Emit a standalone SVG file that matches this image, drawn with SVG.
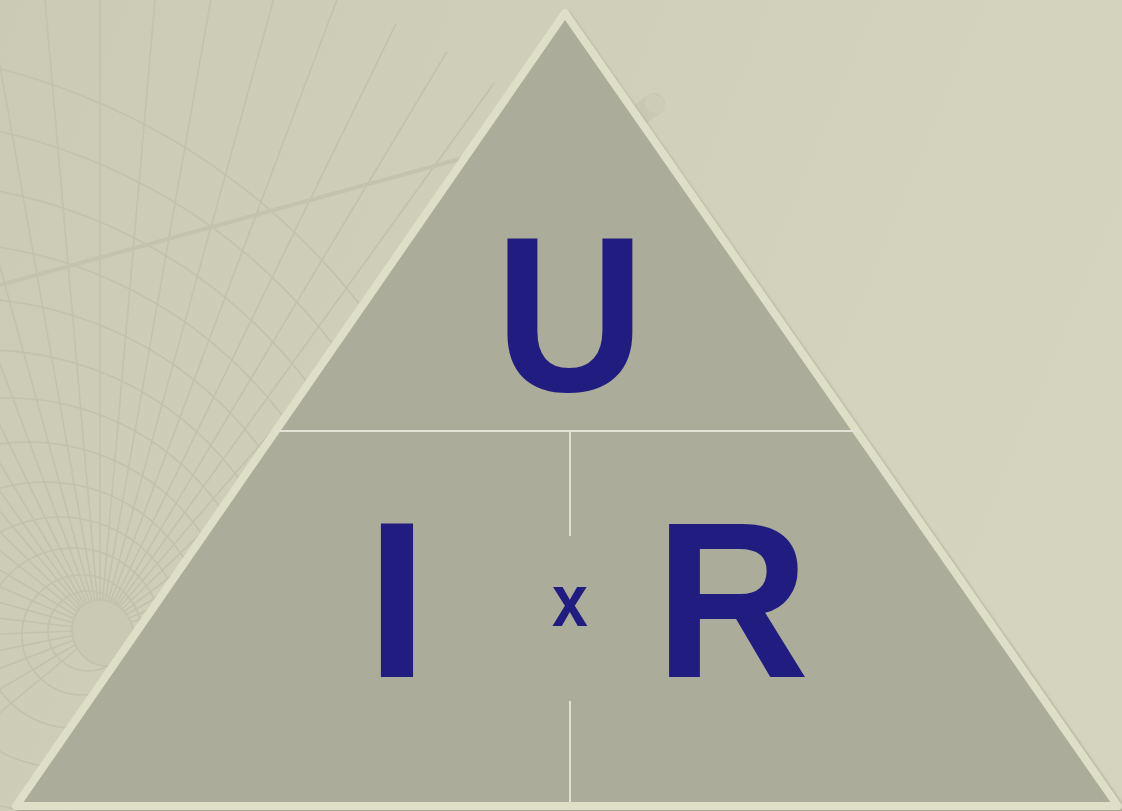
<svg xmlns="http://www.w3.org/2000/svg" width="1122" height="811" viewBox="0 0 1122 811">
<defs>
<linearGradient id="bg" x1="0" y1="0" x2="1" y2="0.3">
<stop offset="0" stop-color="#cbcab4"/>
<stop offset="1" stop-color="#d5d4be"/>
</linearGradient>
<clipPath id="gclip"><circle cx="100" cy="625" r="670"/></clipPath>
<filter id="sh" x="-5%" y="-5%" width="110%" height="110%"><feGaussianBlur stdDeviation="1.5"/></filter>
<style>
.g{fill:none;stroke:#c3c2ac;stroke-width:1.6}
.t{font-family:"Liberation Sans",Arial,sans-serif;font-weight:bold;fill:#201c80}
.sep{stroke:#e2e1d4;stroke-width:2;fill:none}
</style>
</defs>
<rect width="1122" height="811" fill="url(#bg)"/>
<g id="grid" clip-path="url(#gclip)">
<g class="g">
<circle cx="88" cy="631" r="40"/>
<circle cx="82" cy="635" r="60"/>
<circle cx="73" cy="638" r="90"/>
<circle cx="60" cy="642" r="125"/>
<circle cx="45" cy="647" r="165"/>
<circle cx="28" cy="652" r="210"/>
<circle cx="8" cy="658" r="260"/>
<circle cx="-15" cy="665" r="315"/>
<circle cx="-40" cy="673" r="375"/>
<circle cx="-68" cy="682" r="440"/>
<circle cx="-98" cy="692" r="510"/>
<circle cx="-130" cy="702" r="585"/>
<circle cx="-165" cy="713" r="665"/>
</g>
<g class="g" id="rays">
<path d="M100,630 L100,-80"/>
<path d="M100,630 L38,-80 M100,630 L-25,-75 M100,630 L-90,-60 M100,630 L-150,-35 M100,630 L-210,-5 M100,630 L-260,30 M100,630 L-300,75 M100,630 L-330,120 M100,630 L-360,180 M100,630 L-380,250 M100,630 L-400,330 M100,630 L-410,410 M100,630 L-410,490 M100,630 L-410,570 M100,630 L-400,650 M100,630 L-390,730 M100,630 L-370,810 M100,630 L-340,890 M100,630 L-300,960"/>
<path d="M100,630 L162,-80 M100,630 L224,-75 M100,630 L290,-60 M100,630 L350,-35 M100,630 L410,-5 M100,630 L460,30 M100,630 L500,75 M100,630 L540,120 M100,630 L570,180 M100,630 L600,250 M100,630 L620,330 M100,630 L630,410 M100,630 L640,490"/>
</g>
<ellipse cx="103" cy="633" rx="30" ry="34" transform="rotate(-30 103 633)" fill="#cac9b3" stroke="#c3c2ac" stroke-width="1.6"/>
</g>
<g id="pointer">
<line x1="0" y1="285" x2="650" y2="107" stroke="#c4c3ad" stroke-width="4"/>
<line x1="642" y1="113" x2="654" y2="104" stroke="#c9c8b3" stroke-width="22" stroke-linecap="round"/>
<ellipse cx="655" cy="104" rx="9" ry="11" transform="rotate(-50 655 104)" fill="#cdccb7"/>
</g>
<g id="triangle">
<path d="M567,16 L20,809 L1121,809 Z" fill="none" stroke="#a9a893" stroke-width="8" stroke-linejoin="round" filter="url(#sh)"/>
<path d="M565,13 L16,806 L1118,806 Z" fill="#abac9a" stroke="#dfdfc7" stroke-width="8" stroke-linejoin="round"/>
</g>
<g id="separators">
<line class="sep" x1="274" y1="431" x2="857" y2="431"/>
<line class="sep" x1="570" y1="432" x2="570" y2="536"/>
<line class="sep" x1="570" y1="701" x2="570" y2="802"/>
</g>
<g id="node-U"><text class="t" x="0" y="391" font-size="221" text-anchor="middle" transform="translate(570 0) scale(0.94 1)">U</text></g>
<g id="node-I"><text class="t" x="397" y="677" font-size="223" text-anchor="middle">I</text></g>
<g id="node-x"><text class="t" x="0" y="626" font-size="74" text-anchor="middle" transform="translate(570 0) scale(0.87 1)">x</text></g>
<g id="node-R"><text class="t" x="0" y="677" font-size="223" text-anchor="middle" transform="translate(732 0) scale(0.96 1)">R</text></g>
</svg>
